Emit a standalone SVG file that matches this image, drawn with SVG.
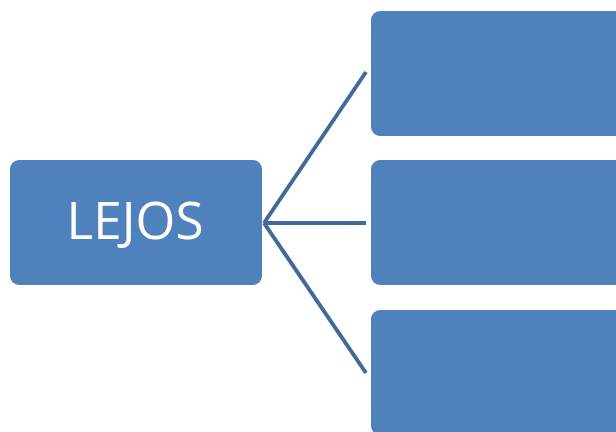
<svg xmlns="http://www.w3.org/2000/svg" width="616" height="432" viewBox="0 0 616 432">
<style>
.box{fill:#4f81bd;}
.conn{stroke:#41699b;stroke-width:4;fill:none;}
.lbl{fill:#ffffff;font-family:"Open Sans","Noto Sans",sans-serif;font-size:51px;text-anchor:middle;}
</style>
<rect width="616" height="432" fill="#ffffff"/>
<g id="connectors">
<line class="conn" x1="264" y1="223" x2="366" y2="72"/>
<line class="conn" x1="264" y1="223" x2="366" y2="223"/>
<line class="conn" x1="264" y1="223" x2="366" y2="373"/>
</g>
<g id="node-lejos">
<rect class="box" x="10" y="160" width="252" height="125" rx="9"/>
<text class="lbl" x="135" y="239" textLength="137" lengthAdjust="spacingAndGlyphs">LEJOS</text>
</g>
<g id="node-top">
<rect class="box" x="371" y="11" width="260" height="125" rx="9"/>
</g>
<g id="node-middle">
<rect class="box" x="371" y="160" width="260" height="125" rx="9"/>
</g>
<g id="node-bottom">
<rect class="box" x="371" y="310" width="260" height="125" rx="9"/>
</g>
</svg>
